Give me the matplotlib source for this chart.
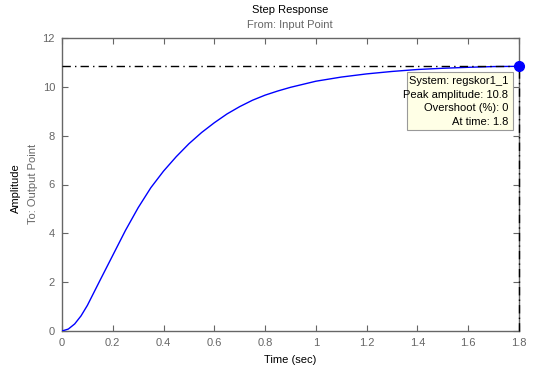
import numpy as np
import matplotlib
matplotlib.use("Agg")
import matplotlib.pyplot as plt

# step response
t = [0, 0.025, 0.05, 0.075, 0.1, 0.15, 0.2, 0.25, 0.3, 0.35, 0.4, 0.45, 0.5,
     0.55, 0.6, 0.65, 0.7, 0.75, 0.8, 0.85, 0.9, 1.0, 1.1, 1.2, 1.3, 1.4, 1.5,
     1.6, 1.7, 1.8]
amp = [0, 0.08, 0.29, 0.62, 1.05, 2.08, 3.1, 4.12, 5.05, 5.87, 6.55, 7.14,
       7.67, 8.13, 8.53, 8.89, 9.19, 9.45, 9.66, 9.83, 9.98, 10.23, 10.40, 10.53,
       10.63, 10.71, 10.76, 10.80, 10.83, 10.84]

peak_amp = 10.84
peak_time = 1.8
xticks = [0, 0.2, 0.4, 0.6, 0.8, 1, 1.2, 1.4, 1.6, 1.8]
xticklabels = ["0", "0.2", "0.4", "0.6", "0.8", "1", "1.2", "1.4", "1.6", "1.8"]
yticks = [0, 2, 4, 6, 8, 10, 12]
tip_lines = ["System: regskor1_1", "Peak amplitude: 10.8", "Overshoot (%): 0", "At time: 1.8"]

W, H = 533, 369
plt.rcParams['font.family'] = ['Liberation Sans', 'DejaVu Sans']
fig = plt.figure(figsize=(W / 100, H / 100), dpi=100)
fig.patch.set_facecolor("white")

# axes box in pixels: left 62, right 519, top 38, bottom 331
ax = fig.add_axes([62 / W, 1 - 331 / H, (519 - 62) / W, (331 - 38) / H])
ax.set_xlim(0, 1.8)
ax.set_ylim(0, 12)

gray = "#666666"
for s in ax.spines.values():
    s.set_color(gray)
    s.set_linewidth(1.0)

ax.set_xticks(xticks)
ax.set_xticklabels(xticklabels)
ax.set_yticks(yticks)
ax.tick_params(direction="in", length=4, width=0.8, color=gray, labelcolor=gray,
               labelsize=8, top=True, right=True, pad=5)

# peak lines
ax.plot([0, peak_time], [peak_amp, peak_amp], color="black", lw=1.0,
        linestyle=(0, (6, 3, 1, 3)), zorder=4)
ax.plot([peak_time, peak_time], [0, peak_amp], color="black", lw=1.0,
        linestyle=(0, (6, 3, 1, 3)), zorder=4, clip_on=False)

ax.plot(t, amp, color="blue", lw=1.0, zorder=3)
ax.plot([peak_time], [peak_amp], "o", color="blue", ms=7, zorder=5, clip_on=False)

# data tip box
tip_box = plt.Rectangle((407 / W, 1 - 130 / H), (513 - 407) / W, (130 - 72) / H,
                        transform=fig.transFigure, facecolor="#FFFFE6",
                        edgecolor="#999999", lw=0.8, zorder=6)
fig.patches.append(tip_box)
for i, line in enumerate(tip_lines):
    fig.text(508 / W, 1 - (81 + 13.6 * i) / H, line, ha="right", va="center",
             fontsize=8, color="black", zorder=7)

fig.text(290 / W, 1 - 10 / H, "Step Response", ha="center", va="center", fontsize=8)
fig.text(290 / W, 1 - 25 / H, "From: Input Point", ha="center", va="center",
         fontsize=8, color=gray)
fig.text(290 / W, 1 - 360 / H, "Time (sec)", ha="center", va="center", fontsize=8)
fig.text(16 / W, 1 - 188 / H, "Amplitude", ha="center", va="center", fontsize=8,
         rotation=90)
fig.text(33 / W, 1 - 184 / H, "To: Output Point", ha="center", va="center",
         fontsize=8, color=gray, rotation=90)

fig.savefig("out.png", dpi=100)
